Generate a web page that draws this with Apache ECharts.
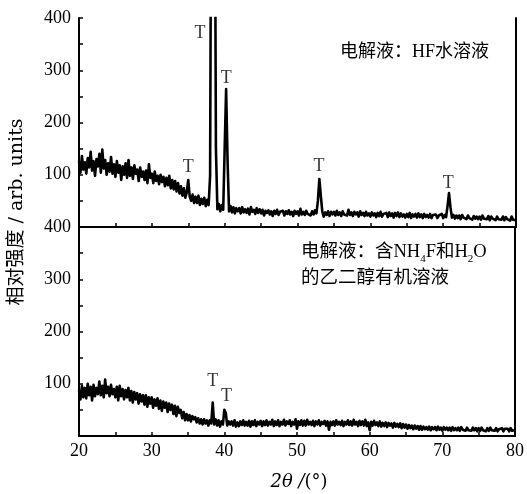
<!DOCTYPE html>
<html>
<head>
<meta charset="utf-8">
<script src="https://cdn.jsdelivr.net/npm/echarts@6/dist/echarts.min.js"></script>
<style>
html,body{margin:0;padding:0;background:#fff;}
#chart{width:527px;height:494px;}
</style>
</head>
<body>
<div id="chart"></div>
<script>
// Sampling: 2θ from 20 to 80 in 0.2° steps
const startAngle = 20;
const stepAngle = 0.2;

// Top panel: 电解液 HF水溶液 (intensity read per 0.2°)
const intensityHF = [
126,104,136,110,124, 102,132,114,144,108, 126,98,130,116,140, 104,148,112,128,100, 122,106,134,102,120,
96,126,104,118,90, 116,100,122,94,128, 98,114,92,118,102, 110,88,114,96,106, 90,108,84,120,94,
102,84,106,88,98, 82,100,86,96,78, 94,80,98,74,90, 72,88,68,84,64, 78,60,74,56,66,
90,58,50,62,46, 58,46,60,42,54, 44,56,40,52,42, 98,900,900,900,150, 34,44,30,42,33,
150,264,126,30,40, 28,38,26,36,30, 36,26,38,28,34, 27,35,24,38,29, 33,25,36,27,34,
26,33,22,31,27, 32,24,30,21,31, 25,33,23,29,26, 31,22,30,25,32, 24,29,21,31,25,
30,22,35,24,29, 23,31,25,28,22, 30,24,32,26,50, 92,60,30,20,28, 23,30,21,29,24,
29,22,31,23,28, 21,30,24,27,22, 33,23,28,21,29, 24,28,20,30,23, 27,21,29,22,26,
20,28,22,26,19, 27,21,29,20,25, 22,27,19,28,21, 26,18,27,21,28, 19,26,20,24,18,
25,19,27,17,24, 20,25,18,26,19, 24,17,25,19,23, 18,25,17,23,20, 24,17,22,19,25,
17,23,19,40,65, 38,18,23,16,22, 17,22,15,23,18, 21,15,22,17,20, 14,21,16,20,15,
20,14,22,16,19, 15,21,13,20,16, 19,13,20,15,18, 14,20,13,19,15, 18,12,20,14,17,
13
];

// Bottom panel: 含NH4F和H2O的乙二醇有机溶液
const intensityEG = [
88,70,96,74,92, 72,100,78,94,68, 98,76,92,80,104, 78,96,74,108,82, 94,76,98,80,90,
74,94,68,96,76, 90,70,88,74,92, 68,86,64,84,70, 82,62,80,66,78, 60,78,56,74,62,
74,54,70,58,72, 52,68,48,66,54, 64,46,62,50,60, 42,58,38,56,44, 50,34,46,30,42,
30,40,28,38,32, 36,26,34,24,32, 22,32,24,30,20, 30,24,64,22,32, 20,30,18,28,22,
50,44,20,28,22, 28,20,30,18,26, 19,28,21,30,20, 27,20,29,18,28, 21,30,19,27,22,
29,19,28,21,30, 20,27,22,31,19, 28,21,30,19,27, 22,31,20,28,23, 30,19,27,22,32,
14,28,21,30,20, 29,20,31,22,27, 21,29,19,28,22, 30,20,27,23,29, 20,28,12,27,21,
28,20,30,22,27, 21,29,19,27,22, 30,21,28,20,31, 22,27,19,29,21, 28,20,31,19,26,
11,27,20,29,21, 26,19,28,18,25, 19,26,17,25,20, 24,16,25,18,23, 17,24,15,23,16,
22,14,21,15,20, 13,20,14,19,12, 19,12,18,13,17, 12,18,11,17,13, 17,11,18,12,16,
10,17,12,16,11, 16,10,17,11,15, 11,16,10,17,12, 15,10,16,11,14, 10,16,11,15,9,
15,10,16,11,14, 9,15,10,16,11, 14,10,15,9,13, 10,15,9,14,11, 14,9,15,10,13,
11
];

// Phase markers "T" (anatase) positions [2θ, intensity]
const markersHF = [[35.0, 115], [36.6, 371], [40.2, 285], [52.95, 117], [70.7, 84]];
const markersEG = [[38.4, 105], [40.3, 77]];

const xTicks = {min: 20, max: 80, interval: 5};
const yTicks = {min: 0, max: 400, interval: 50};

function toPairs(arr) {
  return arr.map((v, i) => [Math.round((startAngle + i * stepAngle) * 100) / 100, v]);
}

const serif = "'Liberation Serif', 'Noto Sans CJK SC', serif";
const wideSerif = "'DejaVu Serif', 'Liberation Serif', serif";

const chart = echarts.init(document.getElementById('chart'), null, {renderer: 'canvas'});

const frameLine = {show: true, lineStyle: {color: '#000', width: 2}};

function xAxisCfg(idx, showLabels) {
  return {
    type: 'value', gridIndex: idx, min: xTicks.min, max: xTicks.max, interval: xTicks.interval,
    axisLine: frameLine,
    axisTick: {show: true, inside: true, length: 4, lineStyle: {color: '#000', width: 1.5}},
    splitLine: {show: false},
    axisLabel: {
      show: showLabels, color: '#000', fontFamily: serif, fontSize: 18, margin: 6,
      formatter: v => (v % 10 === 0 ? String(v) : '')
    }
  };
}
function xFrame(idx) {
  return {type: 'value', gridIndex: idx, position: 'top', min: xTicks.min, max: xTicks.max,
    axisLine: frameLine, axisTick: {show: false}, axisLabel: {show: false}, splitLine: {show: false}};
}
function yAxisCfg(idx) {
  return {
    type: 'value', gridIndex: idx, min: yTicks.min, max: yTicks.max, interval: yTicks.interval,
    axisLine: frameLine,
    axisTick: {show: true, inside: true, length: 4, lineStyle: {color: '#000', width: 1.5}},
    splitLine: {show: false},
    axisLabel: {
      color: '#000', fontFamily: serif, fontSize: 18, margin: 8,
      formatter: v => (v % 100 === 0 && v > 0 ? String(v) : '')
    }
  };
}
function yFrame(idx) {
  return {type: 'value', gridIndex: idx, position: 'right', min: yTicks.min, max: yTicks.max,
    axisLine: frameLine, axisTick: {show: false}, axisLabel: {show: false}, splitLine: {show: false}};
}

const tLabel = {
  show: true, formatter: 'T', position: 'inside', color: '#000',
  fontFamily: serif, fontSize: 18
};

chart.setOption({
  animation: false,
  backgroundColor: '#fff',
  grid: [
    {left: 79, right: 11, top: 18, height: 209},
    {left: 79, right: 11, top: 227, height: 209}
  ],
  xAxis: [xAxisCfg(0, false), xAxisCfg(1, true), xFrame(0), xFrame(1)],
  yAxis: [yAxisCfg(0), yAxisCfg(1), yFrame(0), yFrame(1)],
  series: [
    {type: 'line', xAxisIndex: 0, yAxisIndex: 0, data: toPairs(intensityHF), showSymbol: false,
     lineStyle: {color: '#000', width: 2.6, join: 'round'}, clip: true},
    {type: 'line', xAxisIndex: 1, yAxisIndex: 1, data: toPairs(intensityEG), showSymbol: false,
     lineStyle: {color: '#000', width: 2.6, join: 'round'}, clip: true},
    {type: 'scatter', xAxisIndex: 0, yAxisIndex: 0, data: markersHF, symbolSize: 1,
     itemStyle: {color: 'transparent'}, label: tLabel},
    {type: 'scatter', xAxisIndex: 1, yAxisIndex: 1, data: markersEG, symbolSize: 1,
     itemStyle: {color: 'transparent'}, label: tLabel}
  ],
  graphic: [
    {type: 'text', x: 340, y: 52,
     style: {text: '电解液：HF水溶液', fill: '#000', font: "18px " + serif, verticalAlign: 'middle'}},
    {type: 'text', x: 301, y: 239,
     style: {text: '电解液：含NH{sub|4}F和H{sub|2}O\n的乙二醇有机溶液', fill: '#000', font: "18.5px " + serif,
       lineHeight: 26,
       rich: {sub: {fontSize: 11, fontFamily: serif, verticalAlign: 'bottom', lineHeight: 18}}}},
    {type: 'text', x: 17, y: 212, rotation: Math.PI / 2,
     style: {text: '{c|相对强度}{l| / arb. units}', fill: '#000', align: 'center', verticalAlign: 'middle',
       rich: {c: {fontSize: 19, fontFamily: serif}, l: {fontSize: 19, fontFamily: wideSerif}}}},
    {type: 'text', x: 299, y: 482,
     style: {text: '{i|2θ /}{n|(°)}', fill: '#000', align: 'center', verticalAlign: 'middle',
       rich: {i: {fontStyle: 'italic', fontSize: 18, fontFamily: wideSerif},
              n: {fontSize: 18, fontFamily: wideSerif}}}}
  ]
});
</script>
</body>
</html>
